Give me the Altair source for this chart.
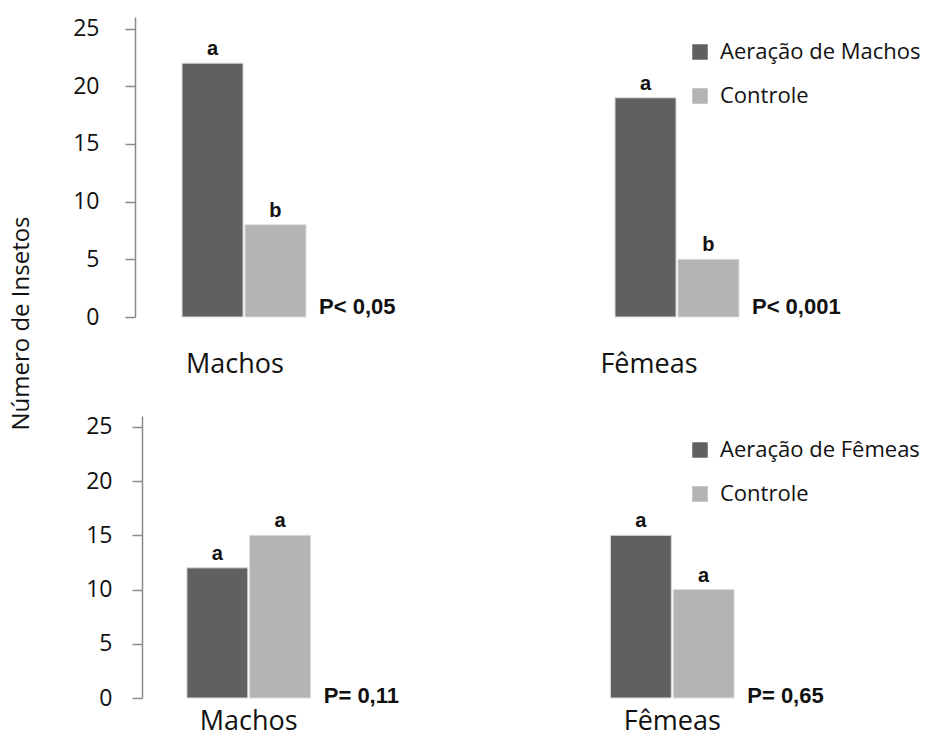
import altair as alt
import pandas as pd

# Categories and series
sexos = ["Machos", "Fêmeas"]

serie_sup = ["Aeração de Machos", "Controle"]
aer_machos = [22, 19]
controle_sup = [8, 5]
letras_aer_sup = ["a", "a"]
letras_ctrl_sup = ["b", "b"]
p_sup = ["P< 0,05", "P< 0,001"]

serie_inf = ["Aeração de Fêmeas", "Controle"]
aer_femeas = [12, 15]
controle_inf = [15, 10]
letras_aer_inf = ["a", "a"]
letras_ctrl_inf = ["a", "a"]
p_inf = ["P= 0,11", "P= 0,65"]

ESCURO = "#606060"
CLARO = "#b4b4b4"
FONTE = "Open Sans"
FONTE_NEGRITO = "Liberation Sans"
TEXTO = "#111111"


def tabela(series, aer, ctrl, let_aer, let_ctrl):
    linhas = []
    for i, s in enumerate(sexos):
        linhas.append({"sexo": s, "grupo": series[0], "valor": aer[i], "letra": let_aer[i]})
        linhas.append({"sexo": s, "grupo": series[1], "valor": ctrl[i], "letra": let_ctrl[i]})
    return pd.DataFrame(linhas)


def painel(df, pvals, series, altura, pad_in, pad_out, eixo_off, y_lab_pad,
           x_lab_pad, lab_offset, leg_y, p_dx, p_dy):
    pdf = pd.DataFrame({"sexo": sexos, "p": pvals})

    x = alt.X(
        "sexo:N", sort=sexos,
        scale=alt.Scale(paddingInner=pad_in, paddingOuter=pad_out),
        axis=alt.Axis(title=None, domain=False, ticks=False, labelAngle=0,
                      labelFont=FONTE, labelFontSize=27, labelColor=TEXTO,
                      labelBaseline="top", labelPadding=x_lab_pad,
                      labelOffset=lab_offset),
    )
    y = alt.Y(
        "valor:Q", scale=alt.Scale(domain=[0, 25]),
        axis=alt.Axis(values=[0, 5, 10, 15, 20, 25], grid=False, title=None,
                      tickSize=10, domainColor="#8a8a8a", tickColor="#8a8a8a",
                      domainWidth=1.5, tickWidth=1.5,
                      labelFont=FONTE, labelFontSize=23, labelColor=TEXTO,
                      labelPadding=y_lab_pad, offset=eixo_off),
    )
    xo = alt.XOffset("grupo:N", sort=series,
                     scale=alt.Scale(domain=series, paddingInner=0.03, paddingOuter=0))

    barras = alt.Chart(df).mark_bar(stroke="#dcdcdc", strokeWidth=1).encode(
        x=x, xOffset=xo, y=y,
        color=alt.Color(
            "grupo:N", sort=series,
            scale=alt.Scale(domain=series, range=[ESCURO, CLARO]),
            legend=alt.Legend(orient="none", legendX=547, legendY=leg_y,
                              title=None, symbolType="square", symbolSize=240,
                              symbolStrokeWidth=0, labelFont=FONTE,
                              labelFontSize=22, labelColor=TEXTO, labelLimit=0,
                              rowPadding=22, labelOffset=9, padding=0),
        ),
    )
    letras = alt.Chart(df).mark_text(
        baseline="alphabetic", dy=-8, font=FONTE_NEGRITO, fontSize=20,
        fontWeight="bold", color=TEXTO,
    ).encode(x=x, xOffset=xo, y=y, text="letra:N")
    pval = alt.Chart(pdf).mark_text(
        align="left", baseline="middle", dx=p_dx, dy=p_dy, font=FONTE_NEGRITO,
        fontSize=22, fontWeight="bold", color=TEXTO,
    ).encode(x=x, y=alt.datum(0), text="p:N")

    return alt.layer(barras, letras, pval).properties(width=637, height=altura)


sup = painel(tabela(serie_sup, aer_machos, controle_sup, letras_aer_sup, letras_ctrl_sup),
             p_sup, serie_sup, 300, 0.7136, 0.0924, 7, 26, 34,
             alt.ExprRef("datum.value == 'Fêmeas' ? -28 : -9"),
             24, 75, -10)
inf = painel(tabela(serie_inf, aer_femeas, controle_inf, letras_aer_inf, letras_ctrl_inf),
             p_inf, serie_inf, 282, 0.7079, 0.106, 0, 20, 10, 0, 23, 75, -2)

chart = alt.vconcat(sup, inf, spacing=38).resolve_scale(
    color="independent", x="independent", y="independent", xOffset="independent"
).resolve_legend(color="independent").properties(
    title=alt.TitleParams("Número de Insetos", orient="left", anchor="middle",
                          font=FONTE, fontSize=24, fontWeight="normal",
                          color=TEXTO, offset=39, dx=52),
    padding={"left": 9, "top": 17, "right": 0, "bottom": 0},
).configure_view(stroke=None)

chart.save("out.html", embed_options={"renderer": "svg", "actions": False})
